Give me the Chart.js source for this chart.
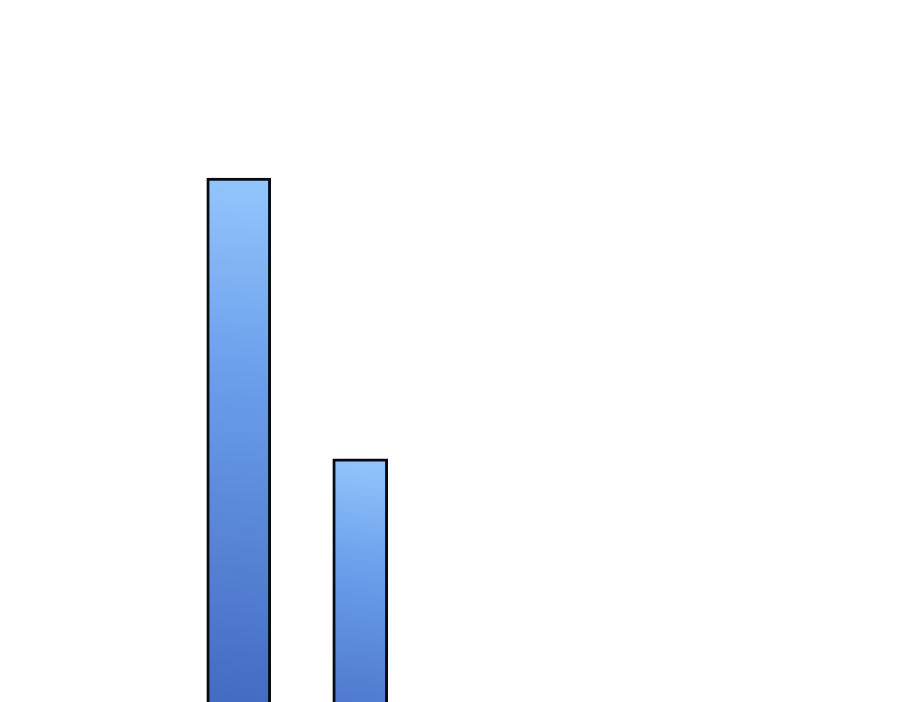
<!DOCTYPE html>
<html>
<head>
<meta charset="utf-8">
<script src="https://cdn.jsdelivr.net/npm/chart.js@4/dist/chart.umd.min.js"></script>
<style>
  html, body { margin:0; padding:0; background:#fff; }
  #wrap { width:900px; height:702px; }
</style>
</head>
<body>
<div id="wrap"><canvas id="chart"></canvas></div>
<script>
// two bars, the lower part of both runs off the bottom of the picture
const categories = ['A', 'B'];
const seriesA = [65, null];
const seriesB = [null, 37];

// gradient runs over the whole bar, down to the zero line (off canvas)
function barGradient(ctx){
  const chart = ctx.chart;
  if(ctx.raw == null || !chart.chartArea || !chart.scales.x) return 'rgba(0,0,0,0)';
  const x = chart.scales.x.getPixelForValue(ctx.dataIndex);
  const top = chart.scales.y.getPixelForValue(ctx.raw);
  const bottom = chart.scales.y.getPixelForValue(0);
  const half = (ctx.dataset.barThickness || 60) / 2;
  if(![x, top, bottom].every(Number.isFinite)) return '#6a9ee8';
  const g = chart.ctx.createLinearGradient(x + half, top, x - half, bottom);
  g.addColorStop(0, '#94c6fc');
  g.addColorStop(0.3, '#6c9eec');
  g.addColorStop(1, '#3458b0');
  return g;
}

function render(){
  const ctx = document.getElementById('chart').getContext('2d');
  new Chart(ctx, {
    type: 'bar',
    data: {
      labels: categories,
      datasets: [
        {data: seriesA, barThickness: 64, backgroundColor: barGradient, borderColor: '#0a0a14', borderWidth: 3, grouped: false},
        {data: seriesB, barThickness: 55, backgroundColor: barGradient, borderColor: '#0a0a14', borderWidth: 3, grouped: false}
      ]
    },
    options: {
      responsive: true,
      maintainAspectRatio: false,
      animation: false,
      layout: {padding: {left: 178, right: 479, top: 0, bottom: 0}},
      scales: {
        x: {display: false},
        y: {display: false, min: 12.76, max: 82.75}
      },
      plugins: {legend: {display: false}, tooltip: {enabled: false}}
    }
  });
}

document.addEventListener('DOMContentLoaded', render);
</script>
</body>
</html>
